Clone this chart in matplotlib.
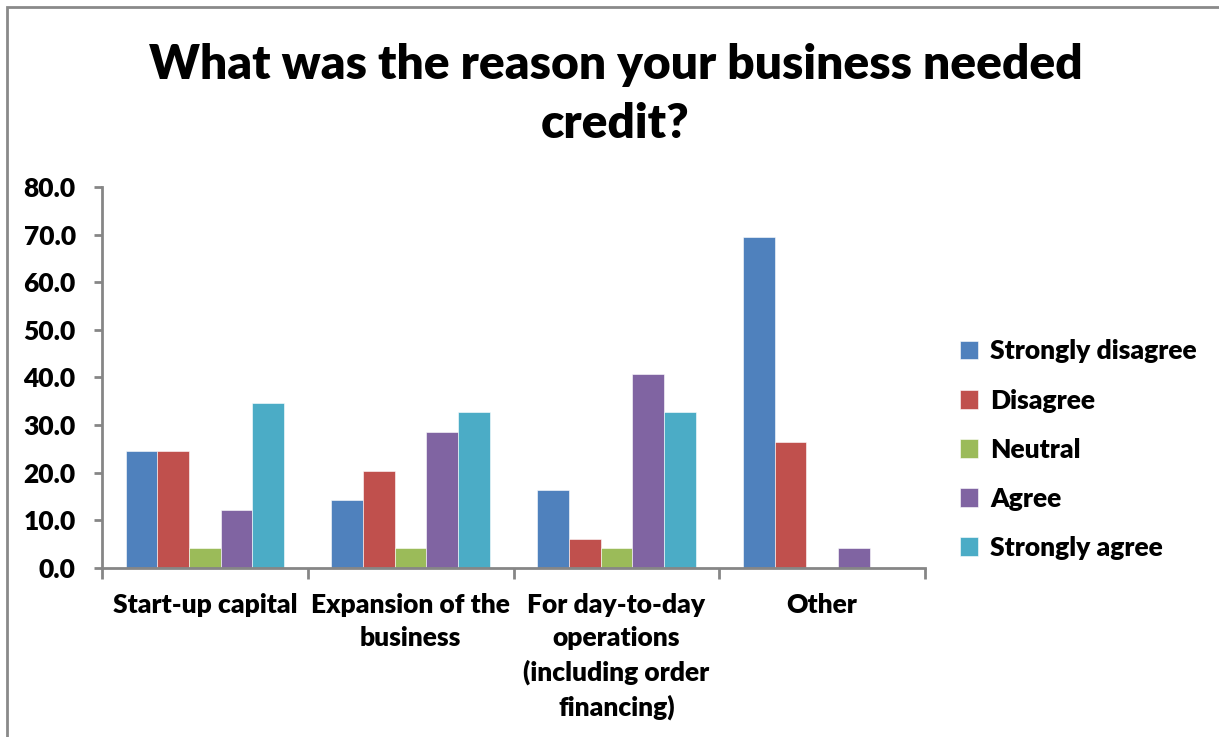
import numpy as np
import matplotlib.pyplot as plt
from matplotlib.patches import Rectangle

# survey answers, percent of respondents
categories = ["Start-up capital", "Expansion of the\nbusiness",
              "For day-to-day\noperations\n(including order\nfinancing)", "Other"]
strongly_disagree = [24.5, 14.3, 16.3, 69.4]
disagree = [24.5, 20.4, 6.1, 26.5]
neutral = [4.1, 4.1, 4.1, 0.0]
agree = [12.2, 28.6, 40.8, 4.1]
strongly_agree = [34.7, 32.7, 32.7, 0.0]
series_names = ["Strongly disagree", "Disagree", "Neutral", "Agree", "Strongly agree"]
y_ticks = [0, 10, 20, 30, 40, 50, 60, 70, 80]

colors = ["#4F81BD", "#C0504D", "#9BBB59", "#8064A2", "#4BACC6"]
series = [strongly_disagree, disagree, neutral, agree, strongly_agree]

plt.rcParams['font.family'] = ['Lato', 'DejaVu Sans']
plt.rcParams['font.weight'] = 'heavy'
FS = 19

fig = plt.figure(figsize=(12.19, 7.37), dpi=100)
ax = fig.add_axes([0.0837, 0.2293, 0.6751, 0.5170])

# chart area border
fig.patches.append(Rectangle((7 / 1219, -0.01), 1.02, 1 - 7 / 737 + 0.01, transform=fig.transFigure,
                             fill=False, edgecolor="#8a8a8a", linewidth=2))

x = np.arange(len(categories))
width = 0.154
for i, (vals, name, c) in enumerate(zip(series, series_names, colors)):
    ax.bar(x + (i - 2) * width, vals, width, color=c, label=name,
           edgecolor="white", linewidth=0.4)

ax.set_xlim(-0.5, len(categories) - 0.5)
ax.set_ylim(0, 80)
ax.set_yticks(y_ticks)
ax.set_yticklabels([f"{v:.1f}" for v in y_ticks], fontsize=FS, fontweight='heavy')

# category boundaries carry the ticks, labels sit at the centres
ax.set_xticks(np.arange(len(categories) + 1) - 0.5)
ax.set_xticklabels([])
ax.set_xticks(x, minor=True)
ax.set_xticklabels(categories, minor=True, fontsize=FS, fontweight='heavy', linespacing=1.45)
ax.tick_params(axis='x', which='minor', length=0, pad=18)
ax.tick_params(axis='x', which='major', length=8, width=2, color="#868686", direction='out')
ax.tick_params(axis='y', length=6, width=2, color="#868686", pad=13)

for side in ["top", "right"]:
    ax.spines[side].set_visible(False)
for side in ["left", "bottom"]:
    ax.spines[side].set_color("#868686")
    ax.spines[side].set_linewidth(2)

fig.text(0.505, 0.872, "What was the reason your business needed\ncredit?", ha='center', va='center',
         fontsize=34.5, fontweight='heavy', linespacing=1.4)

handles, labels = ax.get_legend_handles_labels()
leg = fig.legend(handles, labels, loc='center left', bbox_to_anchor=(0.768, 0.39), frameon=False,
                 prop={'size': FS, 'weight': 'heavy'}, handlelength=0.7, handleheight=0.7,
                 handletextpad=0.45, labelspacing=0.95)

fig.savefig("out.png", dpi=100)
